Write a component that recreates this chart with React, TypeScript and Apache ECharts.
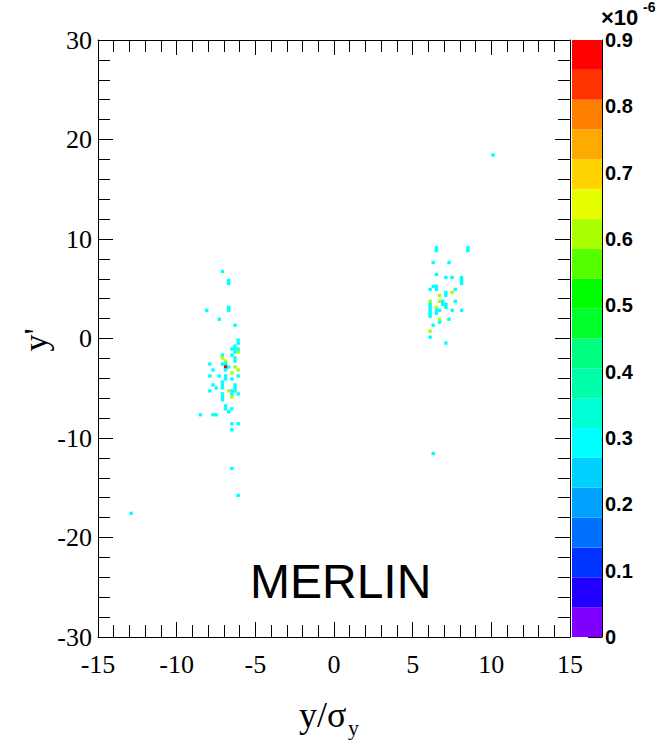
import React, { useEffect, useRef } from "react";
import * as echarts from "echarts";

// Histogram cells (approximate bin positions) and contents (×1e-6)
const cellX = [
  -7.18, -6.69, -6.69, -6.69, -6.69, -8.03, -7.29, -6.38, -6.08, -6.1, -6.25, -6.3, -6.5, -6.3, -6.5, -6.3,
  -6.06, -7.14, -7.18, -6.82, -7.0, -6.8, -7.2, -6.99, -6.76, -6.23, -6.19, -6.55, -7.88, -7.77, -7.92, -7.35,
  -6.97, -6.55, -6.08, -7.77, -7.42, -7.14, -7.14, -7.14, -6.23, -6.23, -7.88, -6.65, -6.5, -6.3, -6.5, -6.12,
  -7.18, -7.18, -7.18, -6.55, -6.82, -6.93, -6.4, -6.61, -8.45, -7.7, -7.5, -6.4, -6.06, -6.4, -6.42, -6.17,
  -12.84, -6.1, -6.3, -6.9, -7.0,
  6.44, 6.44, 8.43, 8.43, 6.31, 7.23, 6.46, 7.06, 7.42, 8.11, 8.0, 8.0, 6.36, 6.59, 6.59, 6.2, 7.06, 7.42,
  7.65, 6.78, 6.2, 6.63, 6.8, 7.65, 6.49, 7.01, 7.01, 6.0, 6.0, 6.0, 6.0, 6.0, 6.74, 7.42, 8.11, 6.42, 6.42,
  6.63, 6.63, 7.37, 6.31, 6.17, 6.06, 7.06, 6.23, 10.1, 6.9, 7.2,
];
const cellY = [
  6.71, 5.9, 5.6, 3.25, 2.95, 2.8, 1.96, 1.29, -0.1, -0.4, -0.7, -1.0, -1.2, -1.3, -1.6, -1.9,
  -1.36, -1.66, -2.03, -2.16, -2.5, -2.5, -2.5, -2.9, -2.9, -2.9, -3.2, -3.5, -2.56, -3.17, -3.67, -3.67,
  -4.0, -4.0, -3.74, -4.67, -4.94, -4.3, -4.6, -4.9, -4.6, -4.9, -5.24, -5.34, -5.2, -5.2, -5.5, -5.58,
  -5.5, -5.8, -6.1, -5.85, -6.85, -7.1, -7.1, -7.35, -7.6, -7.6, -7.6, -8.6, -8.6, -9.13, -13.2, -15.7,
  -17.44, -1.0, -2.2, -3.3, -3.9,
  8.7, 9.0, 8.7, 9.0, 7.62, 7.62, 6.45, 6.18, 6.18, 6.21, 5.9, 5.6, 5.2, 5.2, 4.9, 4.87, 4.6, 4.6,
  4.94, 4.27, 3.7, 3.7, 3.7, 3.7, 3.2, 3.3, 3.0, 3.3, 3.0, 2.7, 2.4, 2.1, 2.8, 2.8, 2.8, 2.7, 2.4,
  1.96, 1.6, 1.96, 1.36, 0.79, 0.12, -0.48, -11.5, 18.35, 3.4, 4.2,
];
const cellV = [
  0.3, 0.3, 0.3, 0.3, 0.3, 0.3, 0.3, 0.3, 0.3, 0.3, 0.3, 0.3, 0.3, 0.3, 0.3, 0.3,
  0.61, 0.3, 0.61, 0.61, 0.3, 0.3, 0.3, 0.9, 0.3, 0.61, 0.61, 0.61, 0.3, 0.3, 0.3, 0.3,
  0.3, 0.3, 0.3, 0.3, 0.3, 0.3, 0.3, 0.3, 0.3, 0.3, 0.3, 0.61, 0.3, 0.3, 0.3, 0.3,
  0.3, 0.3, 0.3, 0.61, 0.3, 0.3, 0.3, 0.3, 0.3, 0.3, 0.3, 0.3, 0.3, 0.3, 0.3, 0.3,
  0.3, 0.3, 0.3, 0.3, 0.3,
  0.3, 0.3, 0.3, 0.3, 0.3, 0.3, 0.3, 0.3, 0.3, 0.3, 0.3, 0.3, 0.3, 0.3, 0.3, 0.3, 0.3, 0.61,
  0.3, 0.61, 0.61, 0.61, 0.3, 0.3, 0.61, 0.3, 0.3, 0.3, 0.3, 0.3, 0.3, 0.3, 0.3, 0.3, 0.3, 0.3, 0.3,
  0.61, 0.3, 0.3, 0.3, 0.61, 0.3, 0.3, 0.3, 0.3, 0.3, 0.3,
];

// Histogram binning
const xMin = -15, xMax = 15, yMin = -30, yMax = 30;
const binW = 0.2, binH = 0.3;

// Colour palette (bottom to top) and z range
const palette = [
  "#8000ff", "#2200ff", "#0033ff", "#0070ff", "#00a0ff", "#00d0ff", "#00ffff", "#00ffd4", "#00ffaa", "#00ff80",
  "#00ff2b", "#00ff00", "#55ff00", "#aaff00", "#e6ff00", "#ffd400", "#ffaa00", "#ff8000", "#ff3300", "#ff0000",
];
const zMax = 0.9;
const zTicks = [0, 0.1, 0.2, 0.3, 0.4, 0.5, 0.6, 0.7, 0.8, 0.9];

const xTickLabels = ["-15", "-10", "-5", "0", "5", "10", "15"];
const yTickLabels = ["-30", "-20", "-10", "0", "10", "20", "30"];

function colorFor(v: number) {
  const n = palette.length;
  let i = Math.floor((v / zMax) * n);
  if (i >= n) i = n - 1;
  if (i < 0) i = 0;
  return palette[i];
}

export default function App() {
  const ref = useRef<HTMLDivElement>(null);
  useEffect(() => {
    if (!ref.current) return;
    const chart = echarts.init(ref.current, undefined, { renderer: "svg" });

    const cells = cellX.map((x, i) => {
      const bx = Math.floor((x - xMin) / binW);
      const by = Math.floor((cellY[i] - yMin) / binH);
      return [xMin + (bx + 0.5) * binW, yMin + (by + 0.5) * binH, cellV[i]];
    });
    const bands = palette.map((c, i) => [(i * zMax) / palette.length, ((i + 1) * zMax) / palette.length, i]);

    const serif = "Liberation Serif";
    const tickCommon = { show: true, inside: true, length: 15, lineStyle: { color: "#000", width: 1 } };
    const minorCommon = { show: true, splitNumber: 5, length: 12, lineStyle: { color: "#000", width: 1 } };
    const lineCommon = { show: true, onZero: false, lineStyle: { color: "#000", width: 1 } };

    chart.setOption({
      animation: false,
      backgroundColor: "#fff",
      grid: [
        { left: 98, top: 40, width: 472, height: 597 },
        { left: 572, top: 40, width: 30, height: 597 },
      ],
      xAxis: [
        {
          type: "value", gridIndex: 0, min: xMin, max: xMax, interval: 5, position: "bottom",
          axisLine: lineCommon, axisTick: tickCommon, minorTick: minorCommon, splitLine: { show: false },
          axisLabel: {
            color: "#000", fontFamily: serif, fontSize: 26, margin: 14,
            formatter: (v: number) => xTickLabels[Math.round((v - xMin) / 5)] ?? String(v),
          },
        },
        {
          type: "value", gridIndex: 0, min: xMin, max: xMax, interval: 5, position: "top",
          axisLine: lineCommon, axisTick: tickCommon, minorTick: minorCommon, splitLine: { show: false },
          axisLabel: { show: false },
        },
        { type: "value", gridIndex: 1, min: 0, max: 1, show: false },
      ],
      yAxis: [
        {
          type: "value", gridIndex: 0, min: yMin, max: yMax, interval: 10, position: "left",
          axisLine: lineCommon, axisTick: tickCommon, minorTick: minorCommon, splitLine: { show: false },
          axisLabel: {
            color: "#000", fontFamily: serif, fontSize: 26, margin: 6,
            formatter: (v: number) => yTickLabels[Math.round((v - yMin) / 10)] ?? String(v),
          },
        },
        {
          type: "value", gridIndex: 0, min: yMin, max: yMax, interval: 10, position: "right",
          axisLine: lineCommon, axisTick: tickCommon, minorTick: minorCommon, splitLine: { show: false },
          axisLabel: { show: false },
        },
        {
          type: "value", gridIndex: 1, min: 0, max: zMax, interval: 0.1, position: "right",
          axisLine: lineCommon,
          axisTick: { show: true, inside: true, length: 14, lineStyle: { color: "#000", width: 1 } },
          splitLine: { show: false },
          axisLabel: {
            color: "#000", fontFamily: "Liberation Sans", fontWeight: "bold", fontSize: 20, margin: 3,
            formatter: (v: number) => {
              const t = zTicks.find((z) => Math.abs(z - v) < 1e-6);
              return t === undefined ? "" : t === 0 ? "0" : t.toFixed(1);
            },
          },
        },
      ],
      series: [
        {
          type: "custom",
          xAxisIndex: 0,
          yAxisIndex: 0,
          clip: true,
          data: cells,
          renderItem: (params: any, api: any) => {
            const x = api.value(0), y = api.value(1), v = api.value(2);
            const p0 = api.coord([x - binW / 2, y + binH / 2]);
            const p1 = api.coord([x + binW / 2, y - binH / 2]);
            return {
              type: "rect",
              shape: { x: p0[0], y: p0[1], width: p1[0] - p0[0] + 0.3, height: p1[1] - p0[1] + 0.3 },
              style: { fill: colorFor(v) },
            };
          },
        },
        {
          type: "custom",
          xAxisIndex: 2,
          yAxisIndex: 2,
          data: bands,
          z: 1,
          renderItem: (params: any, api: any) => {
            const lo = api.value(0), hi = api.value(1), i = api.value(2);
            const p0 = api.coord([0, hi]);
            const p1 = api.coord([1, lo]);
            return {
              type: "rect",
              shape: { x: p0[0], y: p0[1], width: p1[0] - p0[0], height: p1[1] - p0[1] },
              style: { fill: palette[i] },
            };
          },
        },
      ],
      graphic: [
        {
          type: "text", left: 250, top: 557, z: 100,
          style: { text: "MERLIN", font: "48px 'Liberation Sans'", fill: "#000" },
        },
        {
          type: "text", x: 35, y: 340, rotation: Math.PI / 2,
          style: { text: "y'", font: "34px 'Liberation Serif'", fill: "#000", textAlign: "center", textVerticalAlign: "middle" },
        },
        {
          type: "text", x: 299, y: 697,
          style: { text: "y/σ", font: "36px 'Liberation Serif'", fill: "#000" },
        },
        {
          type: "text", x: 348, y: 716,
          style: { text: "y", font: "22px 'Liberation Serif'", fill: "#000" },
        },
        {
          type: "text", x: 601, y: 6,
          style: { text: "×10", font: "bold 22px 'Liberation Sans'", fill: "#000" },
        },
        {
          type: "text", x: 643, y: 0,
          style: { text: "-6", font: "bold 14px 'Liberation Sans'", fill: "#000" },
        },
      ],
    });
    return () => chart.dispose();
  }, []);
  return (
    <div
      ref={ref}
      style={{ position: "fixed", left: 0, top: 0, width: 659, height: 741, background: "#fff" }}
    />
  );
}
